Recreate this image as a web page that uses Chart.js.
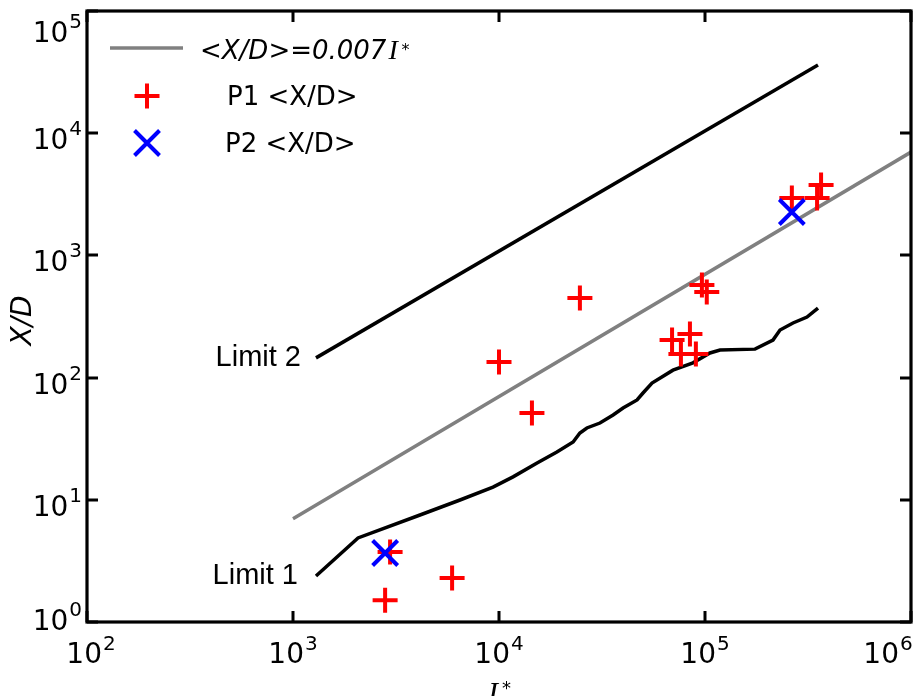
<!DOCTYPE html>
<html>
<head>
<meta charset="utf-8">
<script src="https://cdn.jsdelivr.net/npm/chart.js@4.4.1/dist/chart.umd.min.js"></script>
<style>
    html, body { margin: 0; padding: 0; background: #fff; }
    #wrap { width: 913px; height: 696px; }
</style>
</head>
<body>
<div id="wrap"><canvas id="chart" width="913" height="696"></canvas></div>
<script>
// fitted line <X/D> = 0.007 I*
const fitX = [1e3, 1e6];
const fitY = [7, 7000];

// Limit 1 curve
const limit1X = [1293, 2068, 4135, 6467, 9352, 11700, 15300, 19100, 22900, 24700, 26700, 30900, 35800,
    40000, 46800, 50000, 55300, 69900, 87400, 105700, 118300, 174800, 213800, 231300, 267400, 312700, 353600];
const limit1Y = [2.38, 4.87, 7.51, 9.96, 12.7, 15.4, 20.0, 24.6, 29.7, 35.2, 38.7, 42.5, 49.4,
    56.4, 65.6, 74.8, 90.3, 115, 132, 159, 168, 171, 203, 245, 280, 313, 371];

// Limit 2 line
const limit2X = [1293, 353600];
const limit2Y = [145, 36100];

// measured points
const p1X = [2800, 2960, 5920, 10000, 14450, 24700, 69200, 84500, 76400, 90300, 96600, 102000, 264000, 366000, 350000];
const p1Y = [1.51, 3.74, 2.29, 134, 51.3, 448, 203, 227, 156, 156, 572, 502, 2950, 3770, 2950];
const p2X = [2800, 264000];
const p2Y = [3.67, 2265];

const xTicks = [1e2, 1e3, 1e4, 1e5, 1e6];
const yTicks = [1e0, 1e1, 1e2, 1e3, 1e4, 1e5];

function pts(xs, ys) {
    return xs.map((x, i) => ({ x: x, y: ys[i] }));
}

function drawPow(ctx, exp, x, baseY, supY, align) {
    ctx.font = '28px "DejaVu Sans"';
    const wb = ctx.measureText('10').width;
    ctx.font = '20px "DejaVu Sans"';
    const we = ctx.measureText(String(exp)).width;
    const total = wb + 1 + we;
    const left = align === 'right' ? x - total : x - total / 2;
    ctx.textAlign = 'left';
    ctx.textBaseline = 'alphabetic';
    ctx.font = '28px "DejaVu Sans"';
    ctx.fillText('10', left, baseY);
    ctx.font = '20px "DejaVu Sans"';
    ctx.fillText(String(exp), left + wb + 1, supY);
}

const framePlugin = {
    id: 'frame',
    afterDraw(chart) {
        const ctx = chart.ctx;
        const a = chart.chartArea;
        const xs = chart.scales.x, ys = chart.scales.y;
        ctx.save();
        ctx.fillStyle = '#000';
        ctx.strokeStyle = '#000';

        // frame
        ctx.lineWidth = 3.2;
        ctx.strokeRect(a.left, a.top, a.right - a.left, a.bottom - a.top);

        // inward ticks on all sides
        ctx.lineWidth = 3;
        const tl = 11;
        xTicks.forEach(v => {
            const px = Math.round(xs.getPixelForValue(v));
            ctx.beginPath();
            ctx.moveTo(px, a.bottom); ctx.lineTo(px, a.bottom - tl);
            ctx.moveTo(px, a.top); ctx.lineTo(px, a.top + tl);
            ctx.stroke();
        });
        yTicks.forEach(v => {
            const py = Math.round(ys.getPixelForValue(v));
            ctx.beginPath();
            ctx.moveTo(a.left, py); ctx.lineTo(a.left + tl, py);
            ctx.moveTo(a.right, py); ctx.lineTo(a.right - tl, py);
            ctx.stroke();
        });

        // tick labels
        xTicks.forEach(v => {
            let px = xs.getPixelForValue(v);
            px = Math.min(Math.max(px, 91), 888);
            drawPow(ctx, Math.round(Math.log10(v)), px, a.bottom + 41, a.bottom + 28, 'center');
        });
        yTicks.forEach(v => {
            let py = ys.getPixelForValue(v);
            py = Math.min(Math.max(py, 26), a.bottom - 8);
            drawPow(ctx, Math.round(Math.log10(v)), 82, py + 16, py + 2, 'right');
        });

        // axis titles
        ctx.save();
        ctx.translate(24, (a.top + a.bottom) / 2 + 4);
        ctx.rotate(-Math.PI / 2);
        ctx.textAlign = 'center';
        ctx.textBaseline = 'middle';
        ctx.font = 'oblique 28px "DejaVu Sans"';
        ctx.fillText('X/D', 0, 0);
        ctx.restore();

        ctx.textAlign = 'left';
        ctx.textBaseline = 'alphabetic';
        ctx.font = 'italic 30px "Liberation Serif"';
        const cx = (a.left + a.right) / 2;
        ctx.fillText('I', cx - 11, 702);
        ctx.font = '18px "DejaVu Sans"';
        ctx.fillText('*', cx + 3, 694);

        // limit labels
        ctx.font = '29px "Liberation Sans"';
        ctx.textAlign = 'right';
        ctx.textBaseline = 'middle';
        ctx.fillText('Limit 2', xs.getPixelForValue(limit2X[0]) - 15, ys.getPixelForValue(limit2Y[0]));
        ctx.fillText('Limit 1', xs.getPixelForValue(limit1X[0]) - 18, ys.getPixelForValue(limit1Y[0]));

        // legend
        ctx.strokeStyle = '#808080';
        ctx.lineWidth = 3.5;
        ctx.beginPath();
        ctx.moveTo(110, 48); ctx.lineTo(183, 48);
        ctx.stroke();
        ctx.textAlign = 'left';
        ctx.textBaseline = 'alphabetic';
        ctx.font = 'oblique 26px "DejaVu Sans"';
        ctx.fillText('<X/D>=0.007', 200, 59);
        const w1 = ctx.measureText('<X/D>=0.007').width;
        ctx.font = 'italic 28px "Liberation Serif"';
        ctx.fillText('I', 200 + w1 + 2, 59);
        ctx.font = '16px "DejaVu Sans"';
        ctx.fillText('*', 200 + w1 + 15, 55);

        ctx.strokeStyle = '#ff0000';
        ctx.lineWidth = 4;
        ctx.beginPath();
        ctx.moveTo(134.5, 96); ctx.lineTo(159.5, 96);
        ctx.moveTo(147, 83.5); ctx.lineTo(147, 108.5);
        ctx.stroke();
        ctx.strokeStyle = '#0000ff';
        ctx.beginPath();
        ctx.moveTo(134.5, 130.5); ctx.lineTo(159.5, 155.5);
        ctx.moveTo(159.5, 130.5); ctx.lineTo(134.5, 155.5);
        ctx.stroke();
        ctx.fillStyle = '#000';
        ctx.font = '26px "DejaVu Sans"';
        ctx.fillText('P1 <X/D>', 227, 105);
        ctx.fillText('P2 <X/D>', 225, 152);

        ctx.restore();
    }
};

const ctx = document.getElementById('chart').getContext('2d');
new Chart(ctx, {
    type: 'scatter',
    data: {
        datasets: [
            {
                label: 'P2 <X/D>',
                data: pts(p2X, p2Y),
                pointStyle: 'crossRot',
                pointRadius: 17.7,
                pointBorderWidth: 4,
                borderColor: '#0000ff',
                backgroundColor: '#0000ff',
                order: 0
            },
            {
                label: 'P1 <X/D>',
                data: pts(p1X, p1Y),
                pointStyle: 'cross',
                pointRadius: 12.5,
                pointBorderWidth: 4,
                borderColor: '#ff0000',
                backgroundColor: '#ff0000',
                order: 1
            },
            {
                label: '<X/D>=0.007I*',
                data: pts(fitX, fitY),
                showLine: true,
                borderColor: '#808080',
                borderWidth: 3.5,
                pointRadius: 0,
                order: 2
            },
            {
                label: 'Limit 1',
                data: pts(limit1X, limit1Y),
                showLine: true,
                borderColor: '#000000',
                borderWidth: 3.5,
                pointRadius: 0,
                order: 3
            },
            {
                label: 'Limit 2',
                data: pts(limit2X, limit2Y),
                showLine: true,
                borderColor: '#000000',
                borderWidth: 3.5,
                pointRadius: 0,
                order: 4
            }
        ]
    },
    options: {
        responsive: false,
        animation: false,
        devicePixelRatio: 1,
        layout: { autoPadding: false, padding: { left: 87, right: 2, top: 11, bottom: 74 } },
        plugins: {
            legend: { display: false },
            tooltip: { enabled: false }
        },
        scales: {
            x: { type: 'logarithmic', min: 100, max: 1e6, display: false },
            y: { type: 'logarithmic', min: 1, max: 1e5, display: false }
        }
    },
    plugins: [framePlugin]
});
</script>
</body>
</html>
